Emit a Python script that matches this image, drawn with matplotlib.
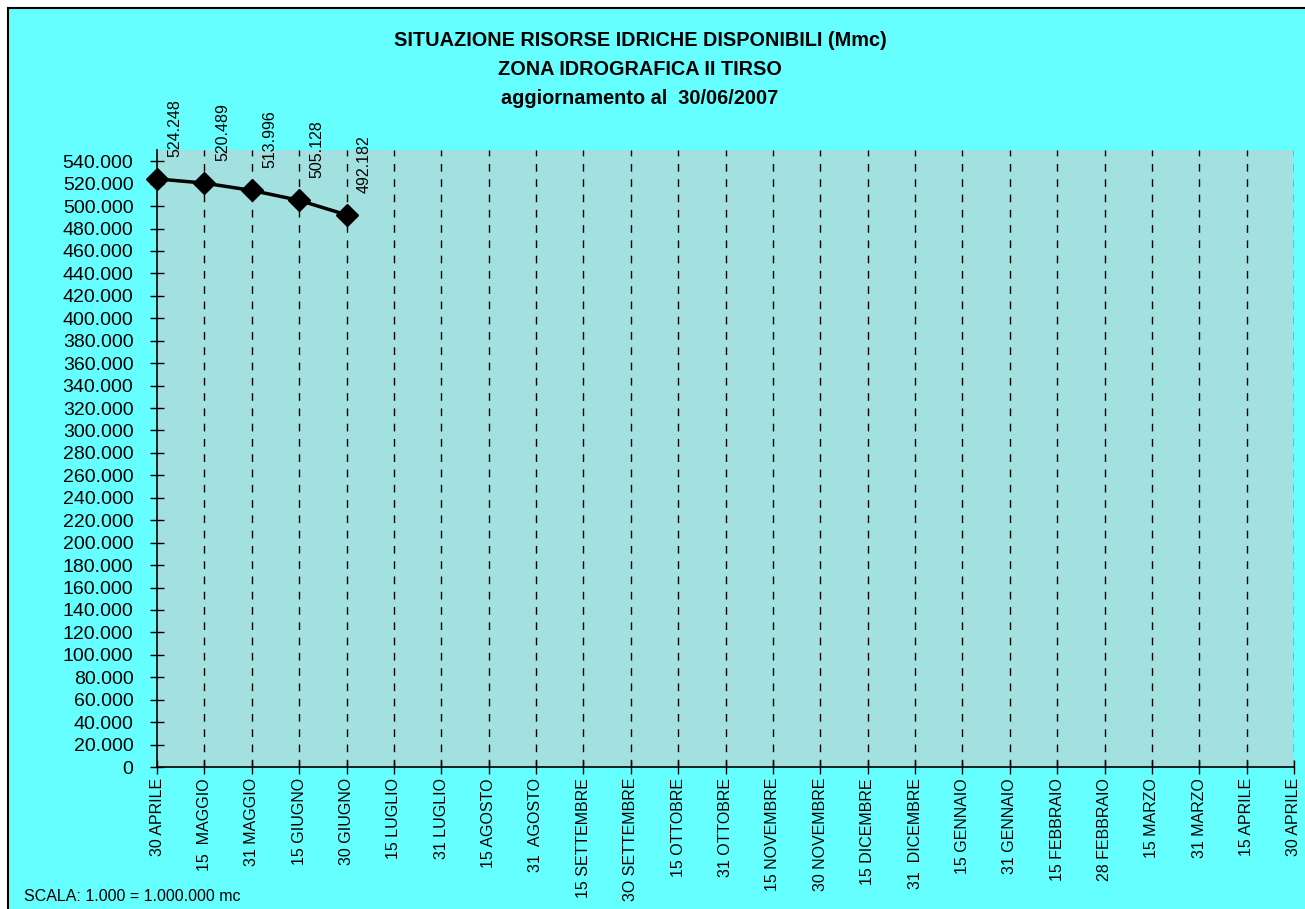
import matplotlib
matplotlib.use("Agg")
import matplotlib.pyplot as plt
from matplotlib.patches import Rectangle

categories = ["30 APRILE", "15  MAGGIO", "31 MAGGIO", "15 GIUGNO", "30 GIUGNO",
              "15 LUGLIO", "31 LUGLIO", "15 AGOSTO", "31  AGOSTO", "15 SETTEMBRE",
              "3O SETTEMBRE", "15 OTTOBRE", "31 OTTOBRE", "15 NOVEMBRE", "30 NOVEMBRE",
              "15 DICEMBRE", "31  DICEMBRE", "15 GENNAIO", "31 GENNAIO", "15 FEBBRAIO",
              "28 FEBBRAIO", "15 MARZO", "31 MARZO", "15 APRILE", "30 APRILE"]
values = [524248, 520489, 513996, 505128, 492182]
value_labels = ["524.248", "520.489", "513.996", "505.128", "492.182"]
y_ticks = list(range(0, 540001, 20000))

def fmt(v):
    if v == 0:
        return "0"
    return f"{v:,}".replace(",", ".")

plt.rcParams['font.family'] = ['Liberation Sans', 'DejaVu Sans']

W, H = 1305, 909
fig = plt.figure(figsize=(W / 100, H / 100), dpi=100, facecolor="white")
fig.patches.append(Rectangle((8 / W, -0.01), 1.02, 1 - 8 / H + 0.01, transform=fig.transFigure,
                             facecolor="#66FFFF", edgecolor="black", linewidth=1.5, zorder=-10))

ax = fig.add_axes([157 / W, (H - 767) / H, (1294 - 157) / W, (767 - 150) / H])
ax.set_facecolor("#A3E0E0")

x_pos = list(range(len(categories)))
ax.set_xlim(0, len(categories) - 1)
ax.set_ylim(0, 550000)

for x in x_pos[1:]:
    ax.axvline(x, color="black", linewidth=1, linestyle=(0, (5.5, 5.5)), zorder=1)

ax.plot(x_pos[:len(values)], values, color="black", linewidth=2.5, marker="D",
        markersize=11, zorder=3, clip_on=False)

for x, v, lab in zip(x_pos, values, value_labels):
    ax.annotate(lab, (x, v), xytext=(18, 22), textcoords="offset pixels",
                rotation=90, ha="center", va="bottom", fontsize=11.5, color="black",
                annotation_clip=False)

ax.set_xticks(x_pos)
ax.set_xticklabels(categories, rotation=90, fontsize=11.5, va="top")
ax.set_yticks(y_ticks)
ax.set_yticklabels([fmt(v) for v in y_ticks], fontsize=14)
ax.tick_params(axis="both", direction="inout", length=10, width=1, colors="black")
ax.tick_params(axis="x", pad=3)
ax.tick_params(axis="y", pad=12)

for s in ["top", "right"]:
    ax.spines[s].set_visible(False)
for s in ["left", "bottom"]:
    ax.spines[s].set_color("black")
    ax.spines[s].set_linewidth(1.2)

fig.text(640 / W, 1 - 31 / H,
         "SITUAZIONE RISORSE IDRICHE DISPONIBILI (Mmc)\nZONA IDROGRAFICA II TIRSO\naggiornamento al  30/06/2007",
         ha="center", va="top", fontsize=14.3, fontweight="bold", linespacing=1.65)
fig.text(24 / W, 1 - 889 / H, "SCALA: 1.000 = 1.000.000 mc", ha="left", va="top", fontsize=11.5)

fig.savefig("out.png", dpi=100, facecolor=fig.get_facecolor())
